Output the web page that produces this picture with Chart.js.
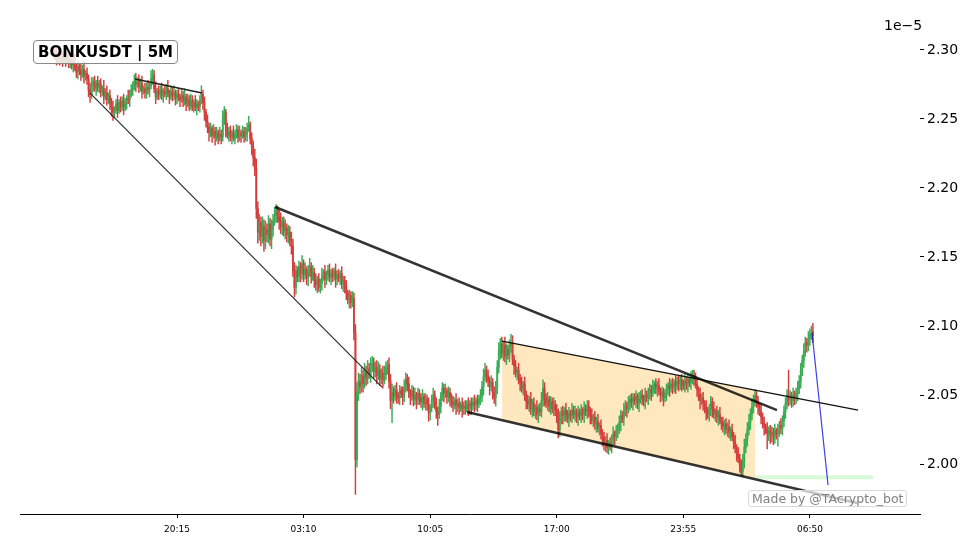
<!DOCTYPE html>
<html>
<head>
<meta charset="utf-8">
<script src="https://cdn.jsdelivr.net/npm/chart.js@4.4.1/dist/chart.umd.min.js"></script>
<style>
  body { margin: 0; background: #fff; }
  #wrap { position: relative; width: 980px; height: 554px; }
  #title {
    position: absolute; left: 33px; top: 40px;
    font: bold 15px "DejaVu Sans"; line-height: 20px;
    padding: 1px 4px; border: 1px solid #888; border-radius: 4px;
    background: rgba(255,255,255,0.8); color: #000;
  }
  #mark {
    position: absolute; left: 748px; top: 490px;
    font: 12.5px "DejaVu Sans"; line-height: 15px; color: #808080;
    padding: 0 3px; border: 1px solid #d8d8d8; border-radius: 3px;
    background: rgba(255,255,255,0.7);
  }
  #offset { position: absolute; left: 884px; top: 17px; font: 14px "DejaVu Sans"; color: #000; }
</style>
</head>
<body>
<div id="wrap">
  <canvas id="chart" width="980" height="554"></canvas>
  <div id="title">BONKUSDT | 5M</div>
  <div id="offset">1e−5</div>
  <div id="mark">Made by @TAcrypto_bot</div>
</div>
<script>
// prices in units of 1e-8 (axis shows 1e-5), one candle every 5 minutes from 13:35
const firstOpen = 2298;
const closes = [
  2296, 2293, 2297, 2294, 2295, 2292, 2295, 2293, 2294, 2291,
  2293, 2289, 2291, 2287, 2284, 2288, 2285, 2282, 2286, 2281,
  2283, 2279, 2271, 2268, 2274, 2277, 2272, 2276, 2273, 2275,
  2270, 2272, 2266, 2269, 2264, 2267, 2262, 2258, 2255, 2257,
  2261, 2256, 2262, 2259, 2263, 2258, 2261, 2265, 2264, 2268,
  2271, 2274, 2277, 2275, 2278, 2273, 2276, 2270, 2272, 2269,
  2273, 2271, 2274, 2279, 2282, 2272, 2266, 2270, 2268, 2271,
  2267, 2270, 2268, 2272, 2269, 2266, 2270, 2267, 2269, 2265,
  2268, 2266, 2264, 2267, 2263, 2266, 2261, 2264, 2260, 2263,
  2259, 2262, 2258, 2261, 2259, 2263, 2268, 2262, 2255, 2248,
  2244, 2240, 2243, 2238, 2241, 2237, 2240, 2236, 2239, 2237,
  2250, 2255, 2242, 2238, 2241, 2237, 2240, 2236, 2239, 2242,
  2237, 2240, 2238, 2241, 2237, 2239, 2243, 2246, 2236, 2230,
  2222, 2214, 2185, 2168, 2175, 2165, 2172, 2162, 2170, 2166,
  2174, 2163, 2170, 2176, 2180, 2184, 2179, 2176, 2172, 2175,
  2169, 2171, 2166, 2168, 2162, 2158, 2140, 2128, 2140, 2136,
  2143, 2138, 2145, 2137, 2141, 2135, 2140, 2143, 2136, 2139,
  2133, 2130, 2134, 2128, 2131, 2136, 2139, 2134, 2137, 2140,
  2135, 2138, 2136, 2140, 2134, 2137, 2135, 2138, 2131, 2133,
  2128, 2124, 2119, 2122, 2117, 2120, 2095, 2003, 2052, 2060,
  2056, 2064, 2058, 2066, 2062, 2069, 2065, 2071, 2073, 2067,
  2070, 2064, 2068, 2062, 2066, 2061, 2065, 2070, 2072, 2060,
  2046, 2052, 2049, 2054, 2050, 2048, 2053, 2051, 2049, 2055,
  2062, 2058, 2052, 2049, 2053, 2047, 2050, 2046, 2051, 2048,
  2045, 2049, 2044, 2047, 2043, 2037, 2041, 2046, 2050, 2044,
  2038, 2036, 2042, 2050, 2055, 2051, 2053, 2049, 2052, 2048,
  2045, 2043, 2046, 2042, 2044, 2041, 2043, 2040, 2042, 2041,
  2043, 2040, 2044, 2042, 2045, 2043, 2046, 2044, 2047, 2049,
  2056, 2063, 2068, 2064, 2060, 2056, 2059, 2052, 2048, 2054,
  2070, 2082, 2087, 2080, 2086, 2078, 2083, 2079, 2085, 2088,
  2076, 2071, 2066, 2068, 2062, 2059, 2055, 2058, 2050, 2046,
  2043, 2047, 2040, 2044, 2038, 2041, 2036, 2040, 2038, 2046,
  2055, 2048, 2044, 2047, 2042, 2045, 2040, 2043, 2039, 2036,
  2025, 2032, 2038, 2035, 2039, 2036, 2033, 2037, 2035, 2039,
  2036, 2038, 2034, 2037, 2035, 2039, 2036, 2040, 2038, 2042,
  2038, 2035, 2032, 2034, 2029, 2031, 2026, 2028, 2022, 2019,
  2015, 2017, 2012, 2015, 2013, 2018, 2022, 2020, 2024, 2026,
  2030, 2035, 2033, 2039, 2042, 2040, 2044, 2047, 2045, 2048,
  2046, 2049, 2044, 2047, 2050, 2048, 2046, 2050, 2048, 2051,
  2054, 2052, 2056, 2058, 2055, 2057, 2053, 2050, 2052, 2048,
  2051, 2054, 2057, 2055, 2058, 2056, 2059, 2057, 2060, 2058,
  2061, 2059, 2057, 2060, 2058, 2061, 2059, 2062, 2064, 2063,
  2058, 2054, 2050, 2046, 2048, 2044, 2041, 2038, 2036, 2039,
  2045, 2040, 2036, 2038, 2034, 2036, 2032, 2030, 2027, 2029,
  2025, 2027, 2023, 2025, 2020, 2016, 2012, 2008, 2004, 1999,
  1995, 2002, 2012, 2018, 2025, 2030, 2036, 2042, 2046, 2050,
  2045, 2042, 2038, 2034, 2030, 2027, 2025, 2022, 2024, 2021,
  2023, 2020, 2024, 2022, 2025, 2028, 2026, 2031, 2038, 2044,
  2050, 2047, 2049, 2046, 2050, 2048, 2051, 2055, 2060, 2068,
  2075, 2082, 2088, 2086, 2091, 2094, 2096, 2093
];
// wick lengths above / below the body, same units
const upWick = [
  3,5,2,4,6,3,2,5,4,3, 5,2,4,6,3,4,2,5,3,6, 2,4,3,5,6,3,4,2,5,3, 4,2,6,3,5,2,4,3,5,2,
  3,6,2,4,3,5,4,2,6,3, 4,3,5,6,2,4,3,5,2,4, 3,5,2,6,4,3,5,2,4,3, 5,2,4,3,6,2,4,3,5,2,
  3,4,2,5,3,6,2,4,3,5, 4,2,5,3,2,4,6,3,4,2, 5,3,4,2,5,3,4,2,5,3, 6,4,2,5,3,4,2,5,3,4,
  3,5,2,4,3,5,4,6,2,4, 4,6,7,5,6,4,7,5,6,4, 6,4,7,5,6,4,3,5,6,4, 4,6,3,5,4,6,5,6,4,3,
  4,3,6,3,5,2,4,6,3,5, 3,5,2,4,3,6,2,5,3,4, 5,3,4,2,5,3,4,2,5,3, 3,5,2,4,3,5,4,6,7,6,
  5,6,4,7,5,6,4,6,5,4, 4,5,6,4,3,5,6,4,3,5, 5,6,4,3,5,2,4,3,5,6, 4,3,5,2,4,3,5,2,4,3,
  3,5,2,4,3,5,2,4,5,3, 4,3,5,2,4,3,5,2,4,3, 3,4,2,5,3,4,2,5,3,4, 3,5,2,4,3,5,2,4,3,5,
  4,6,5,3,4,3,5,3,4,6, 5,6,4,5,3,6,4,3,5,6, 5,3,4,2,5,3,4,2,5,3, 4,2,5,3,4,2,5,3,4,6,
  6,4,3,5,2,4,3,5,3,4, 4,6,3,4,2,5,3,4,2,5, 3,4,2,5,3,4,2,5,3,4, 4,3,5,2,4,3,5,2,4,3,
  4,3,5,2,4,3,5,2,4,3, 5,4,3,5,4,3,5,3,4,3, 3,4,2,5,3,4,2,5,3,4, 4,3,5,2,4,3,5,2,4,3,
  3,4,2,5,3,4,2,5,3,4, 3,4,2,5,3,4,2,5,4,4, 3,4,2,5,3,4,2,5,3,4, 4,3,5,2,4,3,5,2,4,3,
  4,3,5,2,4,3,5,2,4,3, 4,5,6,4,5,6,4,5,4,4, 3,4,2,5,3,4,2,5,3,4, 4,3,5,2,4,3,5,4,4,4,
  4,18,4,3,5,3,4,5,4,5, 4,5,4,3,5,4,4,6
];
const dnWick = [
  3,4,2,5,3,4,2,5,3,4, 4,3,5,2,4,5,3,4,2,5, 3,4,5,6,3,4,2,5,3,4, 4,3,5,2,4,3,5,6,6,4,
  3,5,2,4,3,5,2,4,3,5, 2,4,3,5,2,4,3,5,2,4, 4,3,5,2,4,3,5,2,4,3, 3,5,2,4,3,5,2,4,3,5,
  4,3,5,2,4,3,5,2,4,3, 3,4,2,5,3,4,2,5,6,4, 4,6,3,5,2,6,3,4,2,5, 3,4,5,2,4,3,5,2,4,3,
  4,3,5,2,4,3,5,2,4,6, 6,5,7,8,6,7,5,8,6,5, 6,5,7,5,3,5,4,6,5,6, 4,6,5,6,4,6,4,7,5,4,
  4,6,4,5,3,5,6,4,5,3, 5,4,6,3,4,5,3,6,4,4, 3,5,4,3,6,4,3,5,4,6, 4,5,3,6,4,3,5,25,5,6,
  5,4,6,3,5,4,3,6,4,5, 4,6,3,5,4,6,3,4,5,5, 6,16,5,3,6,4,5,3,6,4, 3,5,4,6,3,5,4,6,3,5,
  4,6,3,5,4,6,5,3,5,4, 5,8,3,5,4,6,3,5,4,6, 4,5,3,6,4,5,3,6,4,5, 3,5,4,6,3,5,4,6,3,4,
  4,6,3,5,4,6,3,5,4,6, 3,4,6,3,5,4,6,3,5,4, 4,6,3,5,4,6,3,5,4,6, 3,5,4,6,3,5,4,6,3,4,
  4,6,3,5,4,6,3,5,4,6, 6,5,3,6,4,5,3,6,4,5, 3,5,4,6,3,5,4,6,3,5, 4,6,3,5,4,6,3,5,4,6,
  5,6,4,5,3,5,4,6,3,5, 4,6,3,5,4,6,3,5,4,6, 3,5,4,6,3,5,4,6,3,5, 4,6,3,5,4,6,3,5,4,6,
  3,5,4,6,3,5,4,6,3,5, 4,6,3,5,4,6,3,5,4,6, 3,5,4,6,3,5,4,6,3,5, 4,6,3,5,4,6,3,5,4,6,
  3,5,4,6,3,5,4,6,3,5, 3,4,5,4,5,4,5,4,5,4, 4,6,3,5,4,6,3,11,5,6, 5,6,5,4,9,5,4,5,4,5,
  4,5,4,5,4,5,4,5,4,5, 4,5,4,5,4,5,4,5
];

// trend lines as [candle index, price] end points
const lineA = [[23, 2268.8], [214.4, 2055.8]];
const lineB = [[52.5, 2279], [96.4, 2268.8]];
const lineC = [[144.3, 2186.2], [473.4, 2039.1]];
const lineD = [[293.1, 2089.1], [526.6, 2039.1]];
const lineE = [[270.2, 2037.7], [525.9, 1971.8]];
const lineF = [[496.4, 2095], [506.9, 1984.8]];
const zoneTop = [[293.1, 2089.1], [459.0, 2053.6]];
const zoneBottom = [[293.1, 2031.8], [459.0, 1989.0]];
const band = [[459.0, 1990.5], [536.4, 1990.5]];

const xTicks = [80, 163, 246, 329, 412, 495];
const yTicks = [2000, 2050, 2100, 2150, 2200, 2250, 2300];
const startMinutes = 13 * 60 + 35;

const UP = "#38ad55";
const DOWN = "#d63c3a";

const opens = closes.map((c, i) => (i === 0 ? firstOpen : closes[i - 1]));
const bodies = [], wicks = [], colors = [];
closes.forEach((c, i) => {
  const o = opens[i];
  const top = Math.max(o, c), bot = Math.min(o, c);
  bodies.push({ x: i, y: [bot, top] });
  wicks.push({ x: i, y: [bot - dnWick[i], top + upWick[i]] });
  colors.push(c >= o ? UP : DOWN);
});

const pts = (arr) => arr.map(([x, y]) => ({ x, y }));

function lineSet(arr, color, width, extra) {
  return Object.assign({
    type: "line",
    data: pts(arr),
    borderColor: color,
    borderWidth: width,
    pointRadius: 0,
    fill: false,
    order: 1,
  }, extra || {});
}

function timeLabel(i) {
  const m = (startMinutes + i * 5) % 1440;
  const hh = String(Math.floor(m / 60)).padStart(2, "0");
  const mm = String(m % 60).padStart(2, "0");
  return hh + ":" + mm;
}

new Chart(document.getElementById("chart"), {
  type: "bar",
  data: {
    datasets: [
      lineSet(zoneTop, "rgba(0,0,0,0)", 0, { fill: "+1", backgroundColor: "rgba(255,165,0,0.25)", order: 20 }),
      lineSet(zoneBottom, "rgba(0,0,0,0)", 0, { order: 21 }),
      lineSet(band, "rgba(144,238,144,0.35)", 4, { order: 19 }),
      { type: "bar", data: wicks, backgroundColor: colors, barThickness: 0.8, grouped: false, order: 6 },
      { type: "bar", data: bodies, backgroundColor: colors, barThickness: 1.2, grouped: false, order: 5 },
      lineSet(lineA, "#222", 1.1),
      lineSet(lineB, "#222", 1.4),
      lineSet(lineC, "rgba(0,0,0,0.8)", 2.5),
      lineSet(lineD, "#111", 1.3),
      lineSet(lineE, "rgba(0,0,0,0.8)", 2.5),
      lineSet(lineF, "rgba(0,0,230,0.75)", 1.2),
    ],
  },
  options: {
    responsive: false,
    animation: false,
    devicePixelRatio: 1,
    layout: { padding: { left: 20, top: 12, right: 0, bottom: 0 } },
    plugins: { legend: { display: false }, tooltip: { enabled: false } },
    scales: {
      x: {
        type: "linear",
        min: -22.95,
        max: 567.2,
        offset: false,
        afterBuildTicks: (s) => { s.ticks = xTicks.map((v) => ({ value: v })); },
        afterFit: (s) => { s.height = 40; },
        ticks: {
          autoSkip: false,
          maxRotation: 0,
          padding: 6,
          color: "#000",
          font: { family: "DejaVu Sans", size: 9 },
          callback: (v) => timeLabel(v),
        },
        grid: { offset: false, drawOnChartArea: false, drawTicks: true, tickLength: 4, tickColor: "#000" },
        border: { display: true, color: "#000", width: 1 },
      },
      y: {
        type: "linear",
        position: "right",
        min: 1963.8,
        max: 2327.5,
        afterBuildTicks: (s) => { s.ticks = yTicks.map((v) => ({ value: v })); },
        afterFit: (s) => { s.width = 60; },
        ticks: {
          padding: 3,
          color: "#000",
          font: { family: "DejaVu Sans", size: 14 },
          callback: (v) => (v / 1000).toFixed(2),
        },
        grid: { drawOnChartArea: false, drawTicks: true, tickLength: 4, tickColor: "#000" },
        border: { display: false },
      },
    },
  },
});
</script>
</body>
</html>
